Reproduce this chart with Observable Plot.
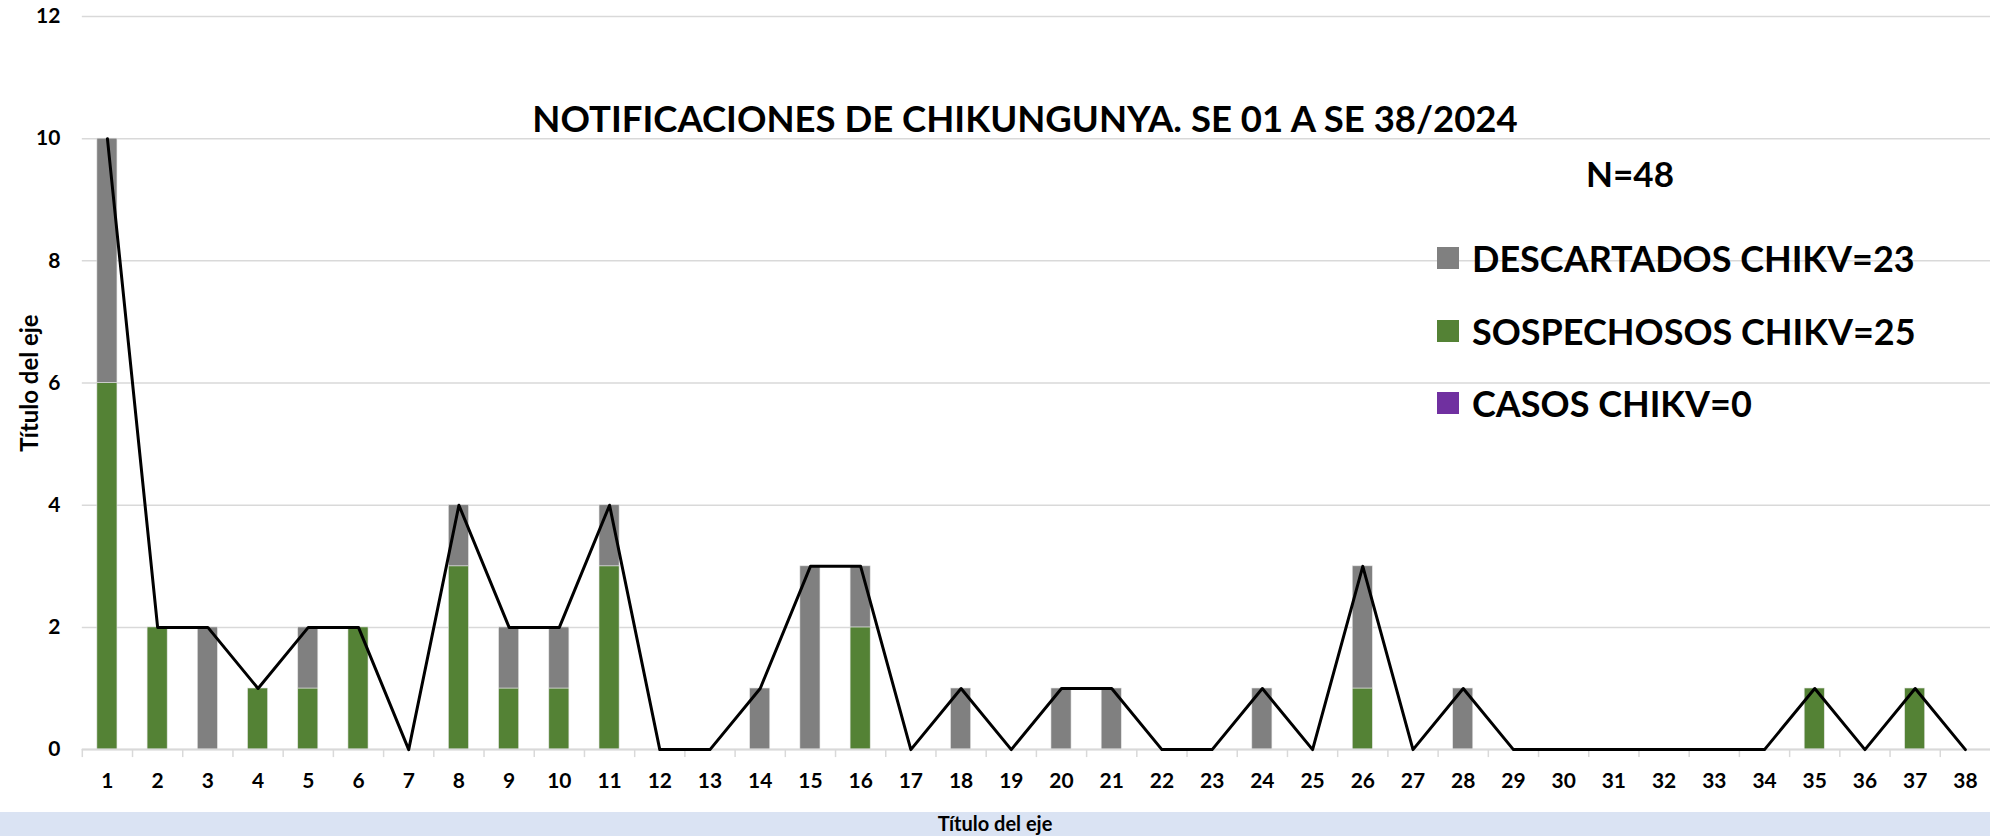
<!DOCTYPE html>
<html>
<head>
<meta charset="utf-8">
<script src="https://cdn.jsdelivr.net/npm/d3@7"></script>
<script src="https://cdn.jsdelivr.net/npm/@observablehq/plot@0.6"></script>
<style>
  html, body { margin: 0; padding: 0; background: #fff; overflow: hidden; }
  #wrap { position: relative; width: 1990px; height: 836px; font-family: Lato, "Open Sans", sans-serif; font-weight: bold; color: #000; }
  #title { position: absolute; left: 0; width: 2050px; top: 96px; text-align: center; font-size: 36.5px; white-space: nowrap; }
  #n { position: absolute; left: 1540px; width: 180px; top: 152px; text-align: center; font-size: 35px; }
  #legend { position: absolute; left: 1437px; top: 222px; font-size: 36px; white-space: nowrap; }
  .row { display: flex; align-items: center; height: 72.5px; }
  .sw { width: 22px; height: 22px; margin-right: 13px; }
  #band { position: absolute; left: 0; top: 812px; width: 1990px; height: 24px; background: #DAE3F3; text-align: center; font-size: 20px; line-height: 23px; }
</style>
</head>
<body>
<div id="wrap">
  <div id="chart"></div>
  <div id="title"></div>
  <div id="n"></div>
  <div id="legend"></div>
  <div id="band"></div>
</div>
<script>
const weeks = d3.range(1, 39);
const sospechosos = [6,2,0,1,1,2,0,3,1,1,3,0,0,0,0,2,0,0,0,0,0,0,0,0,0,1,0,0,0,0,0,0,0,0,1,0,1,0];
const descartados = [4,0,2,0,1,0,0,1,1,1,1,0,0,1,3,1,0,1,0,1,1,0,0,1,0,2,0,1,0,0,0,0,0,0,0,0,0,0];
const casos = weeks.map(() => 0);
const seriesNames = ["SOSPECHOSOS CHIKV", "DESCARTADOS CHIKV", "CASOS CHIKV"];
const seriesColors = ["#548235", "#808080", "#7030A0"];
const legendOrder = ["DESCARTADOS CHIKV", "SOSPECHOSOS CHIKV", "CASOS CHIKV"];
const yTicks = [0, 2, 4, 6, 8, 10, 12];
const titleText = "NOTIFICACIONES DE CHIKUNGUNYA. SE 01 A SE 38/2024";
const axisTitle = "Título del eje";

const seriesValues = [sospechosos, descartados, casos];
const long = [];
seriesNames.forEach((s, i) => weeks.forEach((w, j) => long.push({week: w, serie: s, value: seriesValues[i][j]})));
const totals = weeks.map((w, j) => ({week: w, total: sospechosos[j] + descartados[j] + casos[j]}));
const N = d3.sum(totals, d => d.total);

const W = 1995, H = 812, mL = 82, mR = 0, mT = 16, mB = 61;
const step = (W - mL - mR) / weeks.length;
const font = "Lato, 'Open Sans', sans-serif";

const plot = Plot.plot({
  width: W, height: H,
  marginLeft: mL, marginRight: mR, marginTop: mT, marginBottom: mB,
  style: {fontFamily: font, fontWeight: "bold", fontSize: "21px", color: "#000", background: "transparent", overflow: "visible"},
  x: {type: "band", domain: weeks, paddingInner: 0.6, paddingOuter: 0.3, round: false},
  y: {type: "linear", domain: [0, 12]},
  color: {domain: seriesNames, range: seriesColors},
  marks: [
    Plot.gridY(yTicks, {stroke: "#D9D9D9", strokeOpacity: 1, strokeWidth: 1.5}),
    Plot.barY(long, {x: "week", y: "value", fill: "serie", order: seriesNames, stroke: "#e4e4e4", strokeWidth: 0.6}),
    Plot.ruleY([0], {stroke: "#D9D9D9", strokeWidth: 2}),
    Plot.ruleX(weeks, {x: d => d, dx: -step / 2, y1: 0, y2: 0, insetBottom: -8, stroke: "#D9D9D9", strokeWidth: 1.5}),
    Plot.line(totals, {x: "week", y: "total", stroke: "#000", strokeWidth: 3}),
    Plot.axisY(yTicks, {tickSize: 0, tickPadding: 22, fontSize: 21, tickFormat: "d", label: null}),
    Plot.axisY({tickSize: 0, ticks: [], label: axisTitle, labelAnchor: "center", labelOffset: 61, labelArrow: "none", fontSize: 24}),
    Plot.axisX(weeks, {tickSize: 0, tickPadding: 24, fontSize: 21, label: null})
  ]
});
document.getElementById("chart").appendChild(plot);

document.getElementById("title").textContent = titleText;
document.getElementById("n").textContent = "N=" + N;
const totalsBy = {
  "DESCARTADOS CHIKV": d3.sum(descartados),
  "SOSPECHOSOS CHIKV": d3.sum(sospechosos),
  "CASOS CHIKV": d3.sum(casos)
};
const leg = document.getElementById("legend");
legendOrder.forEach(s => {
  const row = document.createElement("div"); row.className = "row";
  const sw = document.createElement("div"); sw.className = "sw"; sw.style.background = seriesColors[seriesNames.indexOf(s)];
  const t = document.createElement("span"); t.textContent = s + "=" + totalsBy[s];
  row.appendChild(sw); row.appendChild(t); leg.appendChild(row);
});
document.getElementById("band").textContent = axisTitle;
</script>
</body>
</html>
